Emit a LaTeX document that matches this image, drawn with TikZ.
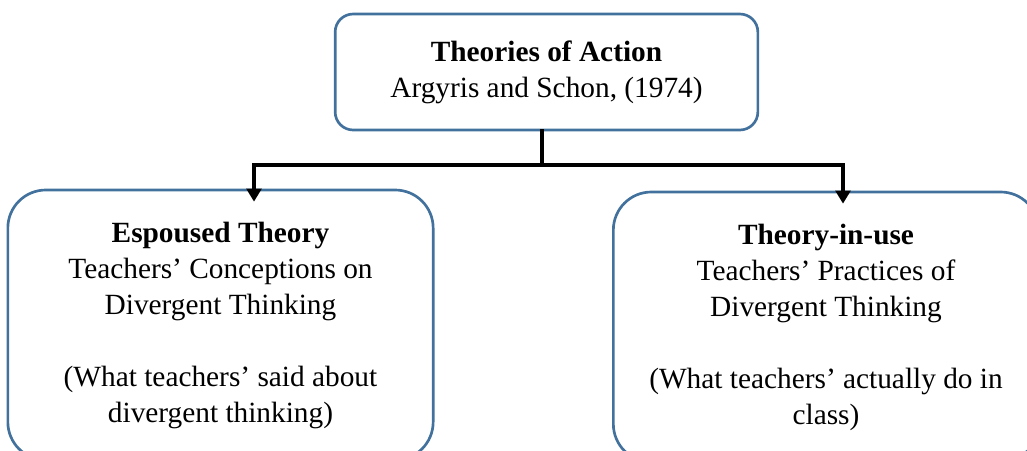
\documentclass[tikz,border=0pt]{standalone}
\usepackage{fontspec}
\setmainfont{Liberation Serif}
\usetikzlibrary{positioning, arrows.meta}

\definecolor{boxblue}{RGB}{65,113,156}

\begin{document}
\begin{tikzpicture}[%
		x=0.75pt, y=-0.75pt,
		topbox/.style={
			rectangle,
			rounded corners=13.5pt,
			minimum width=317pt,
			minimum height=87pt,
			inner sep=0pt,
			line width=2pt,
			draw=boxblue,
			align=center,
			font=\fontsize{22}{27}\selectfont
		},
		theorybox/.style={
			topbox,
			rounded corners=28.5pt,
			minimum width=319pt,
			minimum height=202.5pt
		},
		trunk/.style={
			line width=3pt,
			line cap=rect,
			black
		},
		branch/.style={
			line width=2.5pt,
			black,
			-{Triangle[length=9.75pt,width=11pt]},
			shorten >=-9.75pt
		}]

		\useasboundingbox (0,0) rectangle (1027,450);

		% BOXES

		\node (theory) [topbox] at (546.5,72) {\textbf{Theories of Action}\\Argyris and Schon, (1974)};
		\node (espoused) [theorybox] at (220.5,325) {\textbf{Espoused Theory}\\Teachers’ Conceptions on\\Divergent Thinking\\[27pt](What teachers’ said about\\divergent thinking)};
		\node (inuse) [theorybox] at (826,327) {\textbf{Theory-in-use}\\Teachers’ Practices of\\Divergent Thinking\\[27pt](What teachers’ actually do in\\class)};

		% LINES

		\coordinate (fork) at (542,165);
		\coordinate (leftdrop) at (254,165);
		\coordinate (rightdrop) at (843,165);

		\draw[trunk] (theory.south -| fork) -- (fork);
		\draw[trunk] (leftdrop) -- (rightdrop);
		\draw[branch] (leftdrop) -- (leftdrop |- espoused.north);
		\draw[branch] (rightdrop) -- (rightdrop |- inuse.north);
\end{tikzpicture}
\end{document}
